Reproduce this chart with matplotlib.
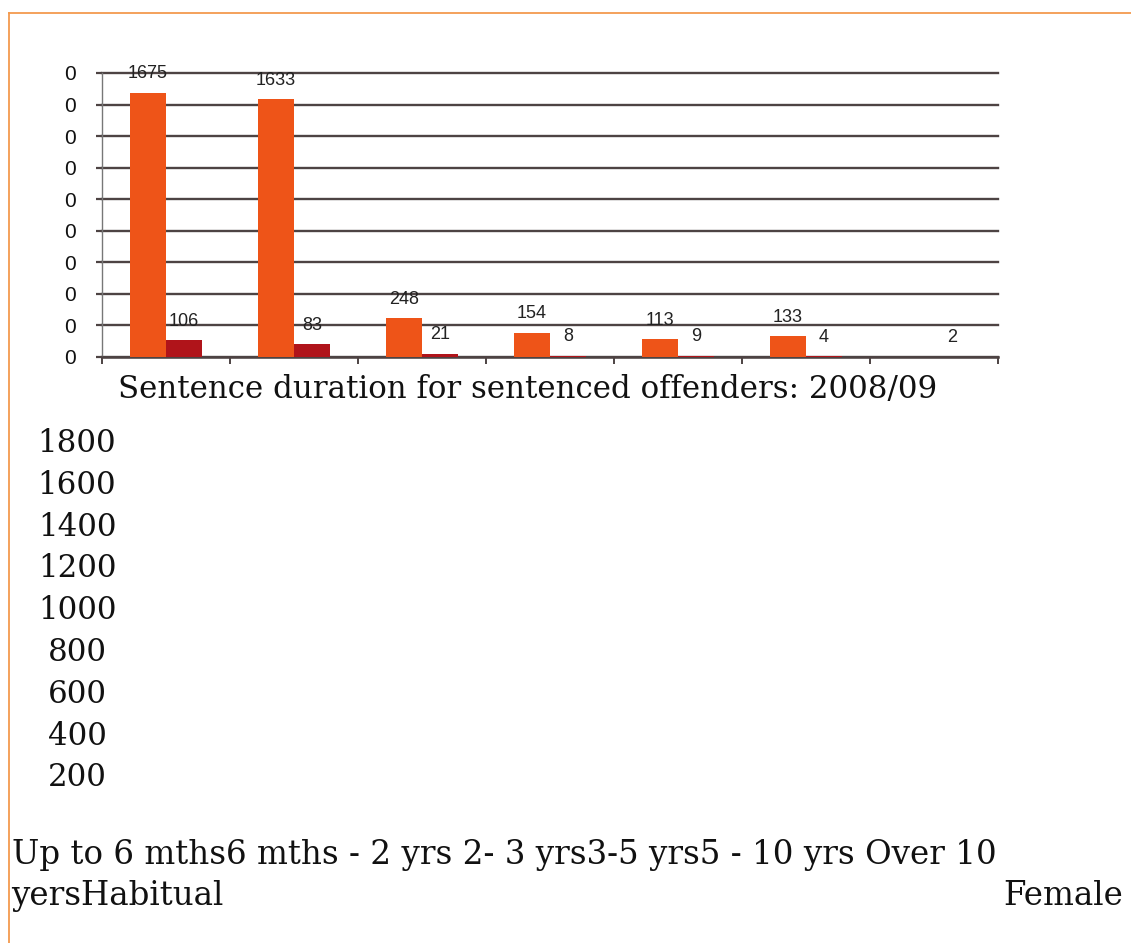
import numpy as np
import matplotlib
matplotlib.use("Agg")
import matplotlib.pyplot as plt
from matplotlib.lines import Line2D

# Sentence duration for sentenced offenders, 2008/09
categories = ["Up to 6 mths", "6 mths - 2 yrs", "2- 3 yrs", "3-5 yrs",
              "5 - 10 yrs", "Over 10 yers", "Habitual"]
male = [1675, 1633, 248, 154, 113, 133, np.nan]
female = [106, 83, 21, 8, 9, 4, 2]

y_ticks = [0, 200, 400, 600, 800, 1000, 1200, 1400, 1600, 1800]
y_tick_labels = ["0"] * len(y_ticks)          # clipped labels on the chart image
axis_values = ["1800", "1600", "1400", "1200", "1000", "800", "600", "400", "200"]
title = "Sentence duration for sentenced offenders: 2008/09"
line1 = "Up to 6 mths6 mths - 2 yrs 2- 3 yrs3-5 yrs5 - 10 yrs Over 10"
line2 = "yersHabitual"
legend_word = "Female"

W, H = 1131, 943
MALE_COLOR = "#EE5418"
FEMALE_COLOR = "#B0141A"
GRID_COLOR = "#4d4343"
BORDER_COLOR = "#F39A4E"
SANS = ["Liberation Sans Narrow", "Liberation Sans", "DejaVu Sans"]
SERIF = ["DejaVu Serif"]

fig = plt.figure(figsize=(W / 100, H / 100), dpi=100)
fig.patch.set_facecolor("white")


def fx(px):
    return px / W


def fy(py):
    return 1 - py / H


# chart area
left, right, top, base = 102, 998, 73, 357
ax = fig.add_axes([fx(left), fy(base), fx(right - left), (base - top) / H])
ax.set_xlim(0, len(categories))
ax.set_ylim(0, 1800)

x = np.arange(len(categories)) + 0.5
bw = 0.28
ax.bar(x - bw / 2, male, width=bw, color=MALE_COLOR, zorder=3)
ax.bar(x + bw / 2, female, width=bw, color=FEMALE_COLOR, zorder=3)

for xi, v in zip(x, male):
    if not np.isnan(v):
        ax.annotate(f"{v:.0f}", (xi - bw / 2, v), xytext=(0, 13.5),
                    textcoords="offset points", ha="center", va="center",
                    fontsize=13, family=SANS, color="#222222", zorder=4)
for xi, v in zip(x, female):
    ax.annotate(f"{v:.0f}", (xi + bw / 2, v), xytext=(0, 13.5),
                textcoords="offset points", ha="center", va="center",
                fontsize=13, family=SANS, color="#222222", zorder=4)

ax.set_yticks(y_ticks)
ax.set_yticklabels(y_tick_labels, family=SANS, fontsize=15, color="#111111")
ax.yaxis.grid(True, color=GRID_COLOR, linewidth=1.7)
for gl in ax.get_ygridlines():
    gl.set_clip_on(False)
ax.set_axisbelow(True)
ax.tick_params(axis="y", length=4, width=1.6, color=GRID_COLOR, pad=15)
ax.set_xticks(np.arange(len(categories) + 1))
ax.set_xticklabels([])
ax.tick_params(axis="x", length=5, width=1.4, color=GRID_COLOR, direction="out")
for s in ("top", "right"):
    ax.spines[s].set_visible(False)
ax.spines["left"].set_color("#777777")
ax.spines["left"].set_linewidth(1.0)
ax.spines["bottom"].set_color(GRID_COLOR)
ax.spines["bottom"].set_linewidth(1.8)
ax.set_facecolor("white")

renderer = fig.canvas.get_renderer()


def fitted_text(px, py, s, width_px, ha="left", base_size=20, **kw):
    t = fig.text(fx(px), fy(py), s, fontsize=base_size, family=SERIF,
                 ha=ha, va="baseline", color="#111111", **kw)
    w = t.get_window_extent(renderer).width
    t.set_fontsize(base_size * width_px / w)
    return t


# caption and extracted text block below the chart
t_title = fitted_text(118, 398, title, 817)
size = t_title.get_fontsize()

for i, val in enumerate(axis_values):
    fig.text(fx(77), fy(452 + i * 41.8), val, fontsize=size, family=SERIF,
             ha="center", va="baseline", color="#111111")

t1 = fitted_text(12, 864, line1, 983)
fig.text(fx(11), fy(905), line2, fontsize=t1.get_fontsize(), family=SERIF,
         ha="left", va="baseline", color="#111111")
fig.text(fx(1123), fy(905), legend_word, fontsize=t1.get_fontsize(),
         family=SERIF, ha="right", va="baseline", color="#111111")

# page border
fig.add_artist(Line2D([fx(9), 1], [fy(13), fy(13)], color=BORDER_COLOR,
                      linewidth=1.3, transform=fig.transFigure))
fig.add_artist(Line2D([fx(9), fx(9)], [fy(13), 0], color=BORDER_COLOR,
                      linewidth=1.3, transform=fig.transFigure))

fig.savefig("out.png", dpi=100, facecolor="white")
